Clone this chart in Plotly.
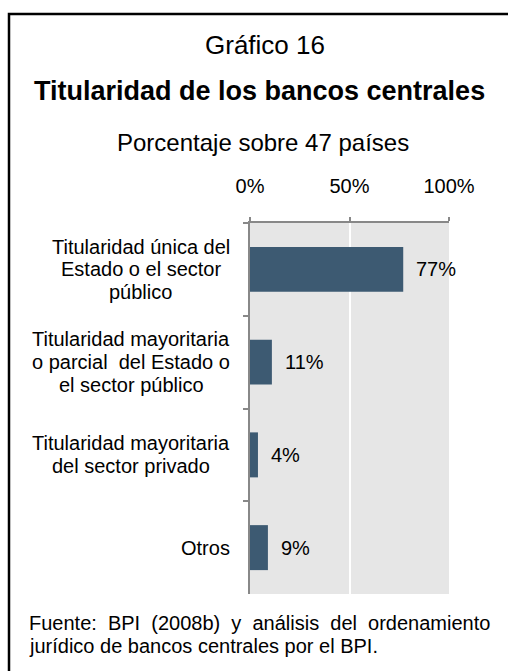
import plotly.graph_objects as go

# Data
categories = [
    ["Titularidad única del", "Estado o el sector", "público"],
    ["Titularidad mayoritaria", "o parcial  del Estado o", "el sector público"],
    ["Titularidad mayoritaria", "del sector privado"],
    ["Otros"],
]
values = [77, 11, 4, 9]
tick_vals = [0, 50, 100]
tick_text = ["0%", "50%", "100%"]

title_top = "Gráfico 16"
title_main = "Titularidad de los bancos centrales"
subtitle = "Porcentaje sobre 47 países"
# first source line is justified, hence the wider gaps
footer_lines = [
    "Fuente:  BPI  (2008b)  y  análisis  del  ordenamiento",
    "jurídico de bancos centrales por el BPI.",
]

W, H = 508, 671
L, R, T, B = 250, 449, 223, 594   # plot area in pixels
FONT = "Arial, Liberation Sans, sans-serif"
BAR = "#3D5A72"
AXIS = "#888888"
CAT_SIZE = 20

# Arial advance widths (per 1000 em) for measuring label lines
ADV = {" ": 278, "a": 556, "b": 556, "c": 500, "d": 556, "e": 556, "i": 222,
       "l": 222, "m": 833, "n": 556, "o": 556, "p": 556, "r": 333, "s": 500,
       "t": 278, "u": 556, "v": 500, "y": 500, "ú": 556, "T": 611, "E": 667,
       "O": 778}


def text_width(s, size):
    return sum(ADV.get(ch, 556) for ch in s) * size / 1000.0


def px(x):
    return (x - L) / (R - L)


def py(y):
    return (B - y) / (B - T)


cat_ids = [str(i) for i in range(len(categories))]

fig = go.Figure(
    go.Bar(
        x=values,
        y=cat_ids,
        orientation="h",
        width=0.485,
        marker=dict(color=BAR, line=dict(width=0)),
        hoverinfo="skip",
    )
)

annotations = []
# value labels next to the bar ends
for cid, v in zip(cat_ids, values):
    annotations.append(dict(
        x=v, y=cid, xref="x", yref="y", text=f"{v}%", showarrow=False,
        xanchor="left", yanchor="middle", xshift=11,
        font=dict(family=FONT, size=20, color="#000000"),
    ))

# category labels: each block right-aligned to the axis, its lines centred
LINE_H = 22.8
LABEL_RIGHT = 230
for cid, lines in zip(cat_ids, categories):
    n = len(lines)
    block_w = max(text_width(s, CAT_SIZE) for s in lines)
    cx = LABEL_RIGHT - block_w / 2
    for i, line in enumerate(lines):
        annotations.append(dict(
            x=px(cx), y=cid, xref="paper", yref="y", text=line,
            showarrow=False, xanchor="center", yanchor="middle",
            yshift=((n - 1) / 2 - i) * LINE_H,
            font=dict(family=FONT, size=CAT_SIZE, color="#000000"),
        ))

# titles
annotations += [
    dict(x=px(265), y=py(45), xref="paper", yref="paper", text=title_top,
         showarrow=False, xanchor="center", yanchor="middle",
         font=dict(family=FONT, size=26, color="#000000")),
    dict(x=px(259), y=py(91), xref="paper", yref="paper", text=f"<b>{title_main}</b>",
         showarrow=False, xanchor="center", yanchor="middle",
         font=dict(family=FONT, size=27, color="#000000")),
    dict(x=px(263), y=py(142), xref="paper", yref="paper", text=subtitle,
         showarrow=False, xanchor="center", yanchor="middle",
         font=dict(family=FONT, size=24, color="#000000")),
]
for i, line in enumerate(footer_lines):
    annotations.append(dict(
        x=px(27), y=py(623 + 23 * i), xref="paper", yref="paper", text=line,
        showarrow=False, xanchor="left", yanchor="middle",
        font=dict(family=FONT, size=20, color="#000000"),
    ))

fig.update_layout(
    width=W, height=H,
    margin=dict(l=L, r=W - R, t=T, b=H - B, pad=0),
    paper_bgcolor="#FFFFFF",
    plot_bgcolor="#E6E6E6",
    showlegend=False,
    annotations=annotations,
    shapes=[dict(
        type="rect", xref="paper", yref="paper",
        x0=px(9), x1=px(522), y0=py(700), y1=py(14),
        line=dict(color="#000000", width=2.5), fillcolor="rgba(0,0,0,0)",
        layer="above",
    )],
    xaxis=dict(
        side="top", range=[0, 100], tickvals=tick_vals, ticktext=tick_text,
        showgrid=True, gridcolor="#FFFFFF", gridwidth=2, zeroline=False,
        showline=True, linecolor=AXIS, linewidth=1.5,
        ticks="outside", ticklen=4, tickcolor=AXIS, tickwidth=1.5,
        ticklabelstandoff=16,
        tickfont=dict(family=FONT, size=20, color="#000000"),
        fixedrange=True,
    ),
    yaxis=dict(
        type="category", categoryorder="array", categoryarray=cat_ids,
        range=[len(cat_ids) - 0.5, -0.5],
        showticklabels=False, showgrid=False, zeroline=False,
        showline=True, linecolor=AXIS, linewidth=1.5,
        ticks="outside", ticklen=5, tickcolor=AXIS, tickwidth=1.5,
        tickson="boundaries", fixedrange=True,
    ),
)

fig.write_html("out.html", config=dict(displayModeBar=False))
